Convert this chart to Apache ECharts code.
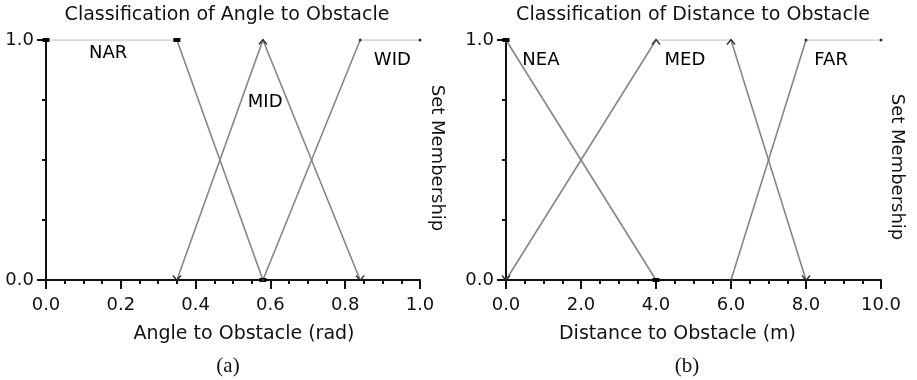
<!DOCTYPE html>
<html>
<head>
<meta charset="utf-8">
<script src="https://cdn.jsdelivr.net/npm/echarts@6/dist/echarts.min.js"></script>
<style>
  html, body { margin: 0; padding: 0; background: #fff; }
  #chart { width: 917px; height: 380px; }
</style>
</head>
<body>
<div id="chart"></div>
<script>
// Fuzzy membership functions: [input value, membership]
const angleNAR = [[0, 1], [0.35, 1], [0.58, 0]];
const angleMID = [[0.35, 0], [0.58, 1], [0.84, 0]];
const angleWID = [[0.58, 0], [0.84, 1], [1.0, 1]];

const distNEA = [[0, 1], [4, 0]];
const distMED = [[0, 0], [4, 1], [6, 1], [8, 0]];
const distFAR = [[6, 0], [8, 1], [10, 1]];

const angleSetNames = ['NAR', 'MID', 'WID'];
const distSetNames = ['NEA', 'MED', 'FAR'];

const FONT = 'DejaVu Sans';
const INK = '#111';
const LINE = '#858585';
const PLATEAU = '#cfcfcf';
const PLOT_TOP = 40;

// Slopes in mid grey; the full-membership plateau along the top edge paler
const lineColor = {
  type: 'linear', global: true,
  x: 0, y: PLOT_TOP - 3, x2: 0, y2: PLOT_TOP + 3,
  colorStops: [
    { offset: 0, color: PLATEAU },
    { offset: 0.6, color: PLATEAU },
    { offset: 0.6, color: LINE },
    { offset: 1, color: LINE }
  ]
};

// Point markers, one style per set index
const UP = 'path://M0,6 L5,0 L10,6';
const DOWN = 'path://M0,0 L5,6 L10,0';

function markerData(points, kind) {
  return points.map(function (p) {
    if (kind === 0) {
      return { value: p, symbol: 'rect', symbolSize: [7, 4],
               itemStyle: { color: '#000', borderWidth: 0 } };
    }
    if (kind === 1) {
      const up = p[1] === 1;
      return { value: p, symbol: up ? UP : DOWN, symbolSize: [8, 5],
               symbolOffset: [0, up ? 2 : -2],
               itemStyle: { color: 'rgba(0,0,0,0)', borderColor: '#222', borderWidth: 1.2 } };
    }
    return { value: p, symbol: 'circle', symbolSize: 3,
             itemStyle: { color: '#333', borderWidth: 0 } };
  });
}

function setSeries(points, kind, gridIdx, name, labelAt) {
  return {
    type: 'line',
    xAxisIndex: gridIdx,
    yAxisIndex: gridIdx,
    data: markerData(points, kind),
    lineStyle: { color: lineColor, width: 1.6 },
    emphasis: { disabled: true },
    silent: true,
    animation: false,
    markPoint: {
      silent: true,
      symbol: 'circle',
      symbolSize: 1,
      itemStyle: { color: 'rgba(0,0,0,0)' },
      label: { show: true, position: 'inside', formatter: name,
               fontFamily: FONT, fontSize: 18, color: '#000' },
      data: [{ name: name, coord: labelAt }]
    }
  };
}

function xAxisFor(gridIdx, max, interval, name, pad) {
  return {
    gridIndex: gridIdx,
    type: 'value',
    min: 0, max: max, interval: interval,
    name: name,
    nameLocation: 'middle',
    nameGap: 45,
    nameTextStyle: { fontFamily: FONT, fontSize: 19, color: INK, padding: pad },
    axisLine: { show: true, onZero: false, lineStyle: { color: INK, width: 2 } },
    axisTick: { show: true, length: 9, lineStyle: { color: INK, width: 2 } },
    minorTick: { show: true, splitNumber: 4, length: 4, lineStyle: { color: INK, width: 2 } },
    axisLabel: { fontFamily: FONT, fontSize: 18, color: INK, margin: 16,
                 formatter: function (v) { return v.toFixed(1); } },
    splitLine: { show: false }
  };
}

function yAxisFor(gridIdx) {
  return {
    gridIndex: gridIdx,
    type: 'value',
    min: 0, max: 1, interval: 1,
    axisLine: { show: true, onZero: false, lineStyle: { color: INK, width: 2 } },
    axisTick: { show: true, length: 9, lineStyle: { color: INK, width: 2 } },
    minorTick: { show: true, splitNumber: 4, length: 4, lineStyle: { color: INK, width: 2 } },
    axisLabel: { fontFamily: FONT, fontSize: 18, color: INK, margin: 12,
                 formatter: function (v) { return v.toFixed(1); } },
    splitLine: { show: false }
  };
}

const chart = echarts.init(document.getElementById('chart'), null, { renderer: 'canvas' });

chart.setOption({
  backgroundColor: '#fff',
  animation: false,
  title: [
    { text: 'Classification of Angle to Obstacle', left: 222, top: 1, textAlign: 'center',
      textStyle: { fontFamily: FONT, fontSize: 19, fontWeight: 'normal', color: INK } },
    { text: 'Classification of Distance to Obstacle', left: 688, top: 1, textAlign: 'center',
      textStyle: { fontFamily: FONT, fontSize: 19, fontWeight: 'normal', color: INK } }
  ],
  grid: [
    { left: 46, top: PLOT_TOP, width: 374, height: 240 },
    { left: 506, top: PLOT_TOP, width: 375, height: 240 }
  ],
  xAxis: [
    xAxisFor(0, 1, 0.2, 'Angle to Obstacle (rad)', [0, 0, 0, 22]),
    xAxisFor(1, 10, 2, 'Distance to Obstacle (m)', [0, 32, 0, 0])
  ],
  yAxis: [yAxisFor(0), yAxisFor(1)],
  series: [
    setSeries(angleNAR, 0, 0, angleSetNames[0], [0.166, 0.946]),
    setSeries(angleMID, 1, 0, angleSetNames[1], [0.586, 0.742]),
    setSeries(angleWID, 2, 0, angleSetNames[2], [0.926, 0.917]),
    setSeries(distNEA, 0, 1, distSetNames[0], [0.93, 0.917]),
    setSeries(distMED, 1, 1, distSetNames[1], [4.77, 0.917]),
    setSeries(distFAR, 2, 1, distSetNames[2], [8.67, 0.917])
  ],
  graphic: [
    { type: 'text', x: 437, y: 158, rotation: -Math.PI / 2,
      style: { text: 'Set Membership', font: '18px "DejaVu Sans"', fill: INK,
               textAlign: 'center', textVerticalAlign: 'middle' } },
    { type: 'text', x: 897, y: 167, rotation: -Math.PI / 2,
      style: { text: 'Set Membership', font: '18px "DejaVu Sans"', fill: INK,
               textAlign: 'center', textVerticalAlign: 'middle' } },
    { type: 'text', x: 228, y: 366,
      style: { text: '(a)', font: '21px "Liberation Serif"', fill: INK,
               textAlign: 'center', textVerticalAlign: 'middle' } },
    { type: 'text', x: 687, y: 366,
      style: { text: '(b)', font: '21px "Liberation Serif"', fill: INK,
               textAlign: 'center', textVerticalAlign: 'middle' } }
  ]
});
</script>
</body>
</html>
